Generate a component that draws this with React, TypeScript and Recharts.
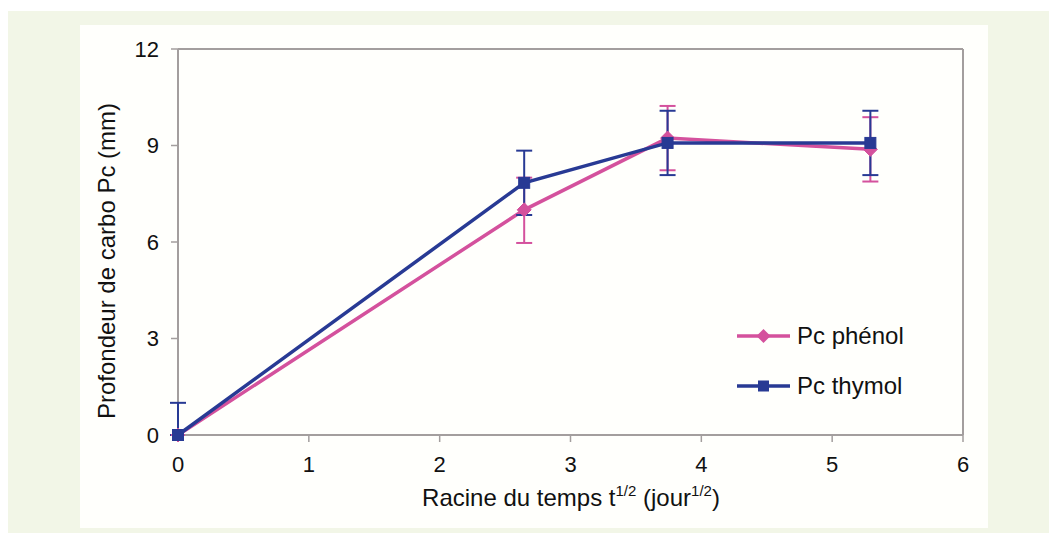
import React from 'react';
import { LineChart, Line, XAxis, YAxis, ErrorBar, ReferenceLine } from 'recharts';

const xValues = [0, 2.646, 3.742, 5.292];
const phenolValues = [0, 7.0, 9.23, 8.88];
const phenolErrors: [number, number][] = [[0, 0], [1.03, 1], [1, 1], [1, 1]];
const thymolValues = [0, 7.84, 9.08, 9.08];
const thymolErrors: [number, number][] = [[0, 1], [1, 1], [1, 1], [1, 1]];
const xTicks = [0, 1, 2, 3, 4, 5, 6];
const yTicks = [0, 3, 6, 9, 12];
const seriesNames = ['Pc phénol', 'Pc thymol'];

const PINK = '#d4519d';
const BLUE = '#283a94';
const GRAY = '#a39e9e';
const FONT = '"Liberation Sans", Arial, sans-serif';

const data = xValues.map((x, i) => ({
  x,
  phenol: phenolValues[i],
  phenolErr: phenolErrors[i],
  thymol: thymolValues[i],
  thymolErr: thymolErrors[i],
}));

const Diamond = (props: any) => {
  const { cx, cy } = props;
  if (cx == null || cy == null) return null;
  const r = 7;
  return (
    <polygon
      points={`${cx},${cy - r} ${cx + r},${cy} ${cx},${cy + r} ${cx - r},${cy}`}
      fill={PINK}
      stroke={PINK}
    />
  );
};

const Square = (props: any) => {
  const { cx, cy } = props;
  if (cx == null || cy == null) return null;
  const s = 5.5;
  return <rect x={cx - s} y={cy - s} width={2 * s} height={2 * s} fill={BLUE} stroke={BLUE} />;
};

const LegendBox = () => (
  <div style={{ position: 'absolute', left: 737, top: 311, fontFamily: FONT, fontSize: 24, color: '#111' }}>
    {seriesNames.map((name, i) => (
      <div key={name} style={{ display: 'flex', alignItems: 'center', height: 50 }}>
        <svg width={58} height={20}>
          <line x1={0} y1={10} x2={53} y2={10} stroke={i === 0 ? PINK : BLUE} strokeWidth={3.5} />
          {i === 0 ? (
            <polygon points="26.5,3 33.5,10 26.5,17 19.5,10" fill={PINK} />
          ) : (
            <rect x={21} y={4.5} width={11} height={11} fill={BLUE} />
          )}
        </svg>
        <span style={{ marginLeft: 2 }}>{name}</span>
      </div>
    ))}
  </div>
);

export default function App() {
  return (
    <div style={{ position: 'absolute', left: 0, top: 0, width: 1049, height: 533, background: '#ffffff', overflow: 'hidden' }}>
      <div style={{ position: 'absolute', left: 8, top: 11, width: 1041, height: 522, background: '#f2f6e7' }} />
      <div style={{ position: 'absolute', left: 80, top: 25, width: 908, height: 503, background: '#fffffc' }} />
      <div style={{ position: 'absolute', left: 0, top: 0 }}>
        <LineChart
          width={1049}
          height={533}
          data={data}
          margin={{ top: 49, right: 86, bottom: 48, left: 118 }}
          style={{ fontFamily: FONT }}
        >
          <ReferenceLine x={0} stroke={GRAY} strokeWidth={2} />
          <ReferenceLine y={12} stroke={GRAY} strokeWidth={2} />
          <ReferenceLine x={6} stroke={GRAY} strokeWidth={2} />
          <XAxis
            dataKey="x"
            type="number"
            domain={[0, 6]}
            ticks={xTicks}
            interval={0}
            height={50}
            axisLine={{ stroke: GRAY, strokeWidth: 2 }}
            tickLine={{ stroke: GRAY, strokeWidth: 1.5 }}
            tickSize={7}
            tickMargin={14}
            tick={{ fill: '#111', fontSize: 22, fontFamily: FONT }}
            label={() => (
              <text x={571} y={506} textAnchor="middle" fill="#111" fontSize={24} fontFamily={FONT}>
                Racine du temps t
                <tspan fontSize={15} dy={-10}>1/2</tspan>
                <tspan fontSize={24} dy={10}> (jour</tspan>
                <tspan fontSize={15} dy={-10}>1/2</tspan>
                <tspan fontSize={24} dy={10}>)</tspan>
              </text>
            )}
          />
          <YAxis
            type="number"
            domain={[0, 12]}
            ticks={yTicks}
            interval={0}
            width={60}
            axisLine={false}
            tickLine={{ stroke: GRAY, strokeWidth: 1.5 }}
            tickSize={7}
            tickMargin={12}
            tick={{ fill: '#111', fontSize: 22, fontFamily: FONT }}
            label={() => (
              <text
                x={106}
                y={261}
                transform="rotate(-90 106 261)"
                textAnchor="middle"
                dominantBaseline="central"
                fill="#111"
                fontSize={24}
                fontFamily={FONT}
              >
                Profondeur de carbo Pc (mm)
              </text>
            )}
          />
          <Line
            dataKey="phenol"
            name={seriesNames[0]}
            stroke={PINK}
            strokeWidth={3.5}
            dot={<Diamond />}
            activeDot={false}
            isAnimationActive={false}
          >
            <ErrorBar dataKey="phenolErr" direction="y" width={8} stroke={PINK} strokeWidth={2} />
          </Line>
          <Line
            dataKey="thymol"
            name={seriesNames[1]}
            stroke={BLUE}
            strokeWidth={3.5}
            dot={<Square />}
            activeDot={false}
            isAnimationActive={false}
          >
            <ErrorBar dataKey="thymolErr" direction="y" width={8} stroke={BLUE} strokeWidth={2} />
          </Line>
        </LineChart>
      </div>
      <LegendBox />
    </div>
  );
}
